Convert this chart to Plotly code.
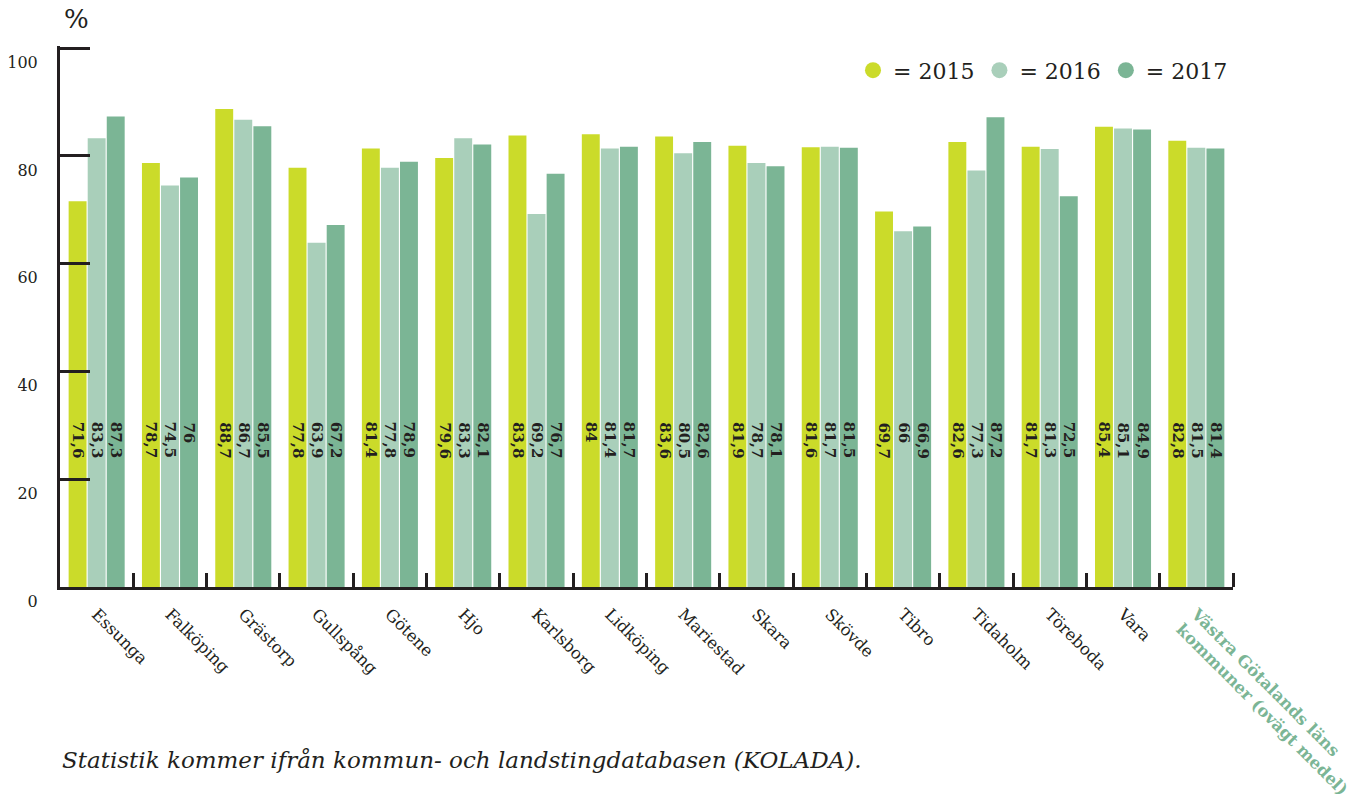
import plotly.graph_objects as go

# Andel per kommun och år (%)
kommuner = [
    "Essunga", "Falköping", "Grästorp", "Gullspång", "Götene", "Hjo",
    "Karlsborg", "Lidköping", "Mariestad", "Skara", "Skövde", "Tibro",
    "Tidaholm", "Töreboda", "Vara",
    "Västra Götalands läns<br>kommuner (ovägt medel)",
]
v2015 = [71.6, 78.7, 88.7, 77.8, 81.4, 79.6, 83.8, 84, 83.6, 81.9, 81.6, 69.7, 82.6, 81.7, 85.4, 82.8]
v2016 = [83.3, 74.5, 86.7, 63.9, 77.8, 83.3, 69.2, 81.4, 80.5, 78.7, 81.7, 66, 77.3, 81.3, 85.1, 81.5]
v2017 = [87.3, 76, 85.5, 67.2, 78.9, 82.1, 76.7, 81.7, 82.6, 78.1, 81.5, 66.9, 87.2, 72.5, 84.9, 81.4]
years = ["2015", "2016", "2017"]
colors = ["#cbdb2a", "#a9cfba", "#7bb595"]
y_ticks = [0, 20, 40, 60, 80, 100]

DARK = "#231f20"
SERIF = "DejaVu Serif"
BARGAP = 0.22
SLOT = (1 - BARGAP) / 3

def fmt(v):
    s = ("%.1f" % v).rstrip("0").rstrip(".")
    return s.replace(".", ",")

xs = list(range(len(kommuner)))
ticktext = kommuner[:-1] + [
    '<span style="color:#7bb595"><b>' + kommuner[-1] + "</b></span>"
]

fig = go.Figure()
series = [v2015, v2016, v2017]
for year, vals, col in zip(years, series, colors):
    fig.add_trace(go.Bar(
        x=xs, y=vals, name=year, marker=dict(color=col, line=dict(width=0)),
        showlegend=False, hoverinfo="skip",
    ))
    # legend entry with a round symbol
    fig.add_trace(go.Scatter(
        x=[None], y=[None], mode="markers", name="= " + year,
        marker=dict(symbol="circle", size=16, color=col),
    ))

# vertical value labels inside each bar
for j, vals in enumerate(series):
    for i, v in enumerate(vals):
        fig.add_annotation(
            x=i + (j - 1) * SLOT, y=31, xref="x", yref="y",
            text=fmt(v), textangle=90, showarrow=False,
            yanchor="top", xanchor="center",
            font=dict(family=SERIF, size=15, color=DARK, weight="bold"),
        )

fig.add_annotation(
    x=-0.5, y=100, xref="x", yref="y", yshift=12, xshift=2,
    text="%", showarrow=False, xanchor="left", yanchor="bottom",
    font=dict(family=SERIF, size=26, color=DARK),
)
fig.add_annotation(
    x=0.0, y=-0.32, xref="paper", yref="paper",
    text="Statistik kommer ifrån kommun- och landstingdatabasen (KOLADA).",
    showarrow=False, xanchor="left", yanchor="middle",
    font=dict(family=SERIF, size=23, color=DARK, style="italic"),
)

fig.update_layout(
    width=1370, height=811,
    margin=dict(l=60, r=137, t=46, b=224),
    paper_bgcolor="white", plot_bgcolor="white",
    barmode="group", bargap=BARGAP, bargroupgap=0.06,
    showlegend=True,
    legend=dict(
        orientation="h", x=1, xanchor="right", y=0.955, yanchor="middle",
        font=dict(family=SERIF, size=22, color=DARK),
        itemsizing="trace", bgcolor="rgba(0,0,0,0)",
    ),
    xaxis=dict(
        range=[-0.5, len(kommuner) - 0.5], automargin=False,
        tickmode="array", tickvals=xs, ticktext=ticktext, tickangle=45,
        ticks="", showgrid=False, zeroline=False,
        showline=True, linecolor=DARK, linewidth=3,
        tickfont=dict(family=SERIF, size=16.5, color=DARK),
        ticklabelstandoff=8,
        minor=dict(
            tickmode="array",
            tickvals=[i + 0.5 for i in xs],
            ticks="inside", ticklen=14, tickwidth=3, tickcolor=DARK,
            showgrid=False,
        ),
    ),
    yaxis=dict(
        range=[0, 100.4], tickmode="array", tickvals=y_ticks, automargin=False,
        ticks="inside", ticklen=30, tickwidth=3, tickcolor=DARK,
        showgrid=False, zeroline=False,
        showline=True, linecolor=DARK, linewidth=3,
        tickfont=dict(family=SERIF, size=16, color=DARK),
        ticklabelshift=14, ticklabelstandoff=16,
    ),
)

fig.write_html("out.html")
